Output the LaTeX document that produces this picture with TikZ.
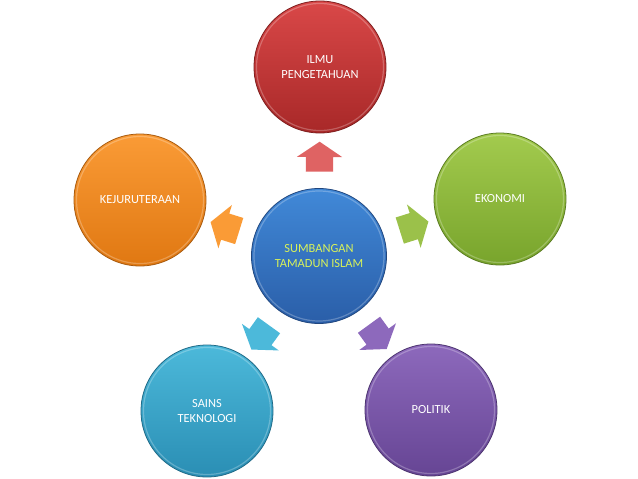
\documentclass[tikz,border=0pt]{standalone}
\usepackage{fontspec}
\setmainfont{Carlito}
\usetikzlibrary{shapes.arrows}

\definecolor{redtop}{HTML}{D94848}
\definecolor{redbot}{HTML}{A82828}
\definecolor{orgtop}{HTML}{FA9B36}
\definecolor{orgbot}{HTML}{E07812}
\definecolor{grntop}{HTML}{A3CB4E}
\definecolor{grnbot}{HTML}{78A42C}
\definecolor{blutop}{HTML}{4189D8}
\definecolor{blubot}{HTML}{2A5EA8}
\definecolor{cyntop}{HTML}{4CB9DA}
\definecolor{cynbot}{HTML}{2A8EB4}
\definecolor{purtop}{HTML}{8D69BC}
\definecolor{purbot}{HTML}{664594}
\definecolor{hubtext}{HTML}{D8F25A}

\begin{document}
\begin{tikzpicture}[
  x=1pt, y=-1pt,
  topic/.style n args={2}{circle, minimum size=132pt, inner sep=0pt,
               top color=#1, bottom color=#2, draw=#2!75!black, line width=0.8pt,
               align=center, text=white, font=\fontsize{12.4}{15.5}\selectfont,
               path picture={\draw[white, opacity=0.25, line width=1.2pt]
                 (path picture bounding box.center) circle ({\pgfkeysvalueof{/pgf/minimum width}/2-2.5pt});}},
  blockarrow/.style={single arrow, draw=none, fill=#1, inner xsep=0pt, inner ysep=13.5pt,
               minimum height=30pt, single arrow head extend=9pt,
               single arrow tip angle=112, single arrow head indent=0pt,
               sloped, allow upside down, pos=0.49}
]
\useasboundingbox (0,0) rectangle (638,479);

\node[topic={blutop}{blubot}, text=hubtext, minimum size=135pt] (hub) at (319,256) {SUMBANGAN\\TAMADUN ISLAM};
\node[topic={redtop}{redbot}] (ilmu) at (320,67) {ILMU\\PENGETAHUAN};
\node[topic={orgtop}{orgbot}] (kej) at (140,200) {KEJURUTERAAN};
\node[topic={grntop}{grnbot}] (eko) at (500,199) {EKONOMI};
\node[topic={cyntop}{cynbot}] (sains) at (207,411) {SAINS\\TEKNOLOGI};
\node[topic={purtop}{purbot}] (pol) at (431,410) {POLITIK};

\path (hub) -- node[blockarrow=redtop!85!white] (a1) {} (ilmu);
\path (hub) -- node[blockarrow=orgtop] (a2) {} (kej);
\path (hub) -- node[blockarrow=grntop!95!black] (a3) {} (eko);
\path (hub) -- node[blockarrow=cyntop] (a4) {} (sains);
\path (hub) -- node[blockarrow=purtop] (a5) {} (pol);

\end{tikzpicture}
\end{document}
